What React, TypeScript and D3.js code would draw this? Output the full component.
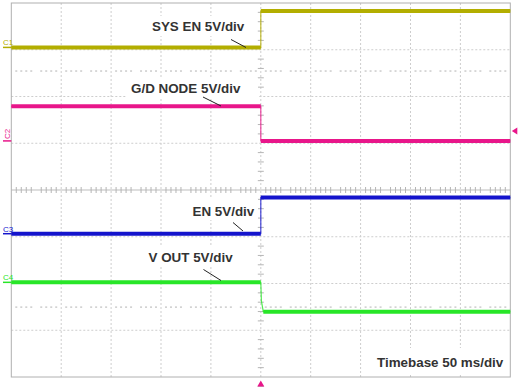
import React, { useRef, useEffect } from "react";
import * as d3 from "d3";

// time axis: 10 div x 50 ms, trigger at centre
const timeMs = [-250, 0, 0, 250];
const sysEnV = [0, 0, 3.9, 3.9];
const gdNodeV = [3.7, 3.7, 0, 0];
const enV = [0, 0, 3.87, 3.87];
const voutTimeMs = [-250, 0, 0.6, 2.5, 250];
const voutV = [0, 0, -2.0, -3.14, -3.14];

const channelIds = ["C1", "C2", "C3", "C4"];
const channelLabels = ["SYS EN 5V/div", "G/D NODE 5V/div", "EN 5V/div", "V OUT 5V/div"];
const groundDiv = [3.05, 1.05, -0.935, -1.975];
const voltsPerDiv = 5;
const timebase = "Timebase 50 ms/div";

interface Trace {
    id: string;
    color: string;
    ground: number;
    t: number[];
    v: number[];
}

const W = 518;
const H = 387;

const App: React.FC = () => {
    const ref = useRef<SVGSVGElement>(null);

    useEffect(() => {
        if (!ref.current) return;
        document.body.style.margin = "0";
        const svg = d3.select(ref.current);
        svg.selectAll("*").remove();

        const left = 11.3, right = 510.3, top = 3, bottom = 377;
        const x = d3.scaleLinear().domain([-250, 250]).range([left, right]);
        const yDiv = d3.scaleLinear().domain([-4, 4]).range([bottom, top]);

        const colors = ["#b3ae00", "#e8168a", "#1414cc", "#28e628"];
        const traces: Trace[] = [
            { id: channelIds[0], color: colors[0], ground: groundDiv[0], t: timeMs, v: sysEnV },
            { id: channelIds[1], color: colors[1], ground: groundDiv[1], t: timeMs, v: gdNodeV },
            { id: channelIds[2], color: colors[2], ground: groundDiv[2], t: timeMs, v: enV },
            { id: channelIds[3], color: colors[3], ground: groundDiv[3], t: voutTimeMs, v: voutV },
        ];

        svg.append("rect").attr("width", W).attr("height", H).attr("fill", "#fff");

        const grid = svg.append("g");
        // vertical division lines
        d3.range(-4, 5).forEach(i => {
            grid.append("line")
                .attr("x1", x(i * 50)).attr("x2", x(i * 50))
                .attr("y1", top).attr("y2", bottom)
                .attr("stroke", "#cdcdcd").attr("stroke-dasharray", "2,2");
        });
        // horizontal division lines
        d3.range(-3, 4).forEach(i => {
            grid.append("line")
                .attr("x1", left).attr("x2", right)
                .attr("y1", yDiv(i)).attr("y2", yDiv(i))
                .attr("stroke", i === 0 ? "#bdbdbd" : "#cdcdcd")
                .attr("stroke-dasharray", i === 0 ? null : "2,2");
        });
        // minor ticks on centre axes
        d3.range(-50, 51).forEach(k => {
            if (k % 5 === 0) return;
            grid.append("line")
                .attr("x1", x(k * 5)).attr("x2", x(k * 5))
                .attr("y1", yDiv(0) - 3).attr("y2", yDiv(0) + 3)
                .attr("stroke", "#b5b5b5");
        });
        d3.range(-40, 41).forEach(k => {
            if (k % 5 === 0) return;
            grid.append("line")
                .attr("x1", x(0) - 3).attr("x2", x(0) + 3)
                .attr("y1", yDiv(k / 5)).attr("y2", yDiv(k / 5))
                .attr("stroke", "#b5b5b5");
        });
        // dotted rows
        [2.55, -2.5].forEach(d => {
            d3.range(-50, 51).forEach(k => {
                if (k % 5 === 0) return;
                grid.append("rect")
                    .attr("x", x(k * 5) - 1).attr("y", yDiv(d) - 0.5)
                    .attr("width", 2).attr("height", 1.5)
                    .attr("fill", "#cccccc");
            });
        });
        svg.append("rect")
            .attr("x", left).attr("y", top)
            .attr("width", right - left).attr("height", bottom - top)
            .attr("fill", "none").attr("stroke", "#b0b0b0");

        // traces
        traces.forEach(tr => {
            const pts: [number, number][] = tr.t.map((t, i) => [x(t), yDiv(tr.ground + tr.v[i] / voltsPerDiv)]);
            svg.append("path")
                .attr("d", d3.line()(pts))
                .attr("fill", "none")
                .attr("stroke", tr.color)
                .attr("stroke-width", 1.2)
                .attr("opacity", 0.8);
            for (let i = 0; i < pts.length - 1; i++) {
                if (tr.v[i] !== tr.v[i + 1]) continue;
                svg.append("line")
                    .attr("x1", pts[i][0]).attr("x2", pts[i + 1][0])
                    .attr("y1", pts[i][1]).attr("y2", pts[i + 1][1])
                    .attr("stroke", tr.color)
                    .attr("stroke-width", 4);
            }
            // ground marker on the left
            const gy = yDiv(tr.ground);
            svg.append("line")
                .attr("x1", 3).attr("x2", left)
                .attr("y1", gy).attr("y2", gy)
                .attr("stroke", tr.color).attr("stroke-width", 1.5);
            const lbl = svg.append("text")
                .attr("font-family", "Liberation Sans, Arial, sans-serif")
                .attr("font-size", 8)
                .attr("fill", tr.color)
                .text(tr.id);
            if (tr.id === "C2") {
                lbl.attr("transform", `translate(10,${gy - 2}) rotate(-90)`);
            } else {
                lbl.attr("x", 3).attr("y", gy - 2);
            }
        });

        // labels
        const font = "Liberation Sans, Arial, sans-serif";
        const labelPos: [number, number][] = [[152, 30.5], [131, 92.5], [192.5, 215.5], [148.5, 262]];
        const boxes: [number, number, number, number][] = [[148, 16, 104, 20], [126, 78, 132, 19], [188, 199, 70, 21], [143, 246, 112, 20]];
        const leaders: [number, number, number, number][] = [[231, 39.5, 246, 47.5], [203, 97, 221, 106], [233, 222.5, 243, 231], [203.5, 269.5, 221, 280.5]];
        channelLabels.forEach((txt, i) => {
            const b = boxes[i];
            svg.append("rect").attr("x", b[0]).attr("y", b[1]).attr("width", b[2]).attr("height", b[3]).attr("fill", "#fff");
            svg.append("text")
                .attr("x", labelPos[i][0]).attr("y", labelPos[i][1])
                .attr("font-family", font).attr("font-weight", "bold").attr("font-size", 13.4)
                .attr("fill", "#333")
                .text(txt);
            const l = leaders[i];
            svg.append("line")
                .attr("x1", l[0]).attr("y1", l[1]).attr("x2", l[2]).attr("y2", l[3])
                .attr("stroke", "#222").attr("stroke-width", 1);
        });
        svg.append("rect").attr("x", 372).attr("y", 348).attr("width", 137).attr("height", 27).attr("fill", "#fff");
        svg.append("text")
            .attr("x", 377).attr("y", 366.5)
            .attr("font-family", font).attr("font-weight", "bold").attr("font-size", 13.4)
            .attr("fill", "#333")
            .text(timebase);

        // trigger markers
        const tx = x(0);
        svg.append("path")
            .attr("d", `M${tx},${bottom + 3.5}L${tx + 3.5},${bottom + 9.5}L${tx - 3.5},${bottom + 9.5}Z`)
            .attr("fill", colors[1]);
        const ty = yDiv(1.26);
        svg.append("path")
            .attr("d", `M${right + 1.5},${ty}L${right + 7},${ty - 3.5}L${right + 7},${ty + 3.5}Z`)
            .attr("fill", colors[1]);
    }, []);

    return <svg ref={ref} width={W} height={H} style={{ display: "block" }} />;
};

export default App;
